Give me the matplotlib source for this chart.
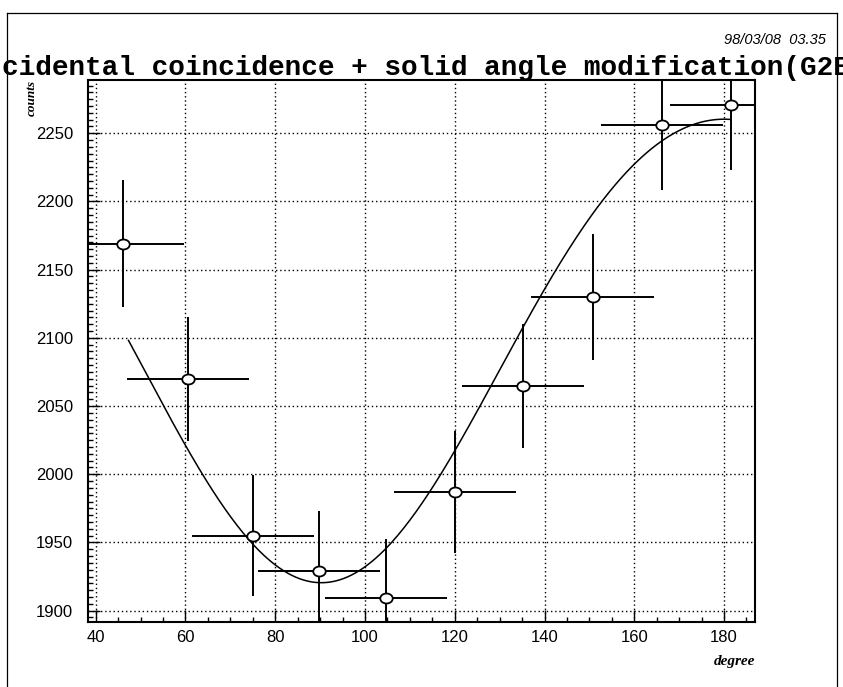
import numpy as np
import matplotlib
matplotlib.use("Agg")
import matplotlib.pyplot as plt
from matplotlib.path import Path
from matplotlib.lines import Line2D
from matplotlib.ticker import MultipleLocator

# measured counts per angular bin
angle = [46.1, 60.6, 75.0, 89.8, 104.7, 120.0, 135.3, 150.7, 166.1, 181.5]
angle_err = [13.6, 13.6, 13.6, 13.6, 13.6, 13.6, 13.6, 13.6, 13.6, 13.6]
counts = [2169, 2070, 1955, 1929, 1909, 1987, 2065, 2130, 2256, 2271]
counts_err = [46.6, 45.5, 44.2, 43.9, 43.7, 44.6, 45.4, 46.1, 47.5, 47.6]

# fit: A + D*cos + B*cos^2 + C*cos^4
fit_A, fit_B, fit_C, fit_D = 1920.5, 411.6, -67.8, 4.0
fit_lo, fit_hi = 47.3, 181.2

x_ticks = [40, 60, 80, 100, 120, 140, 160, 180]
y_ticks = [1900, 1950, 2000, 2050, 2100, 2150, 2200, 2250]

W, H = 843, 687
fig = plt.figure(figsize=(W / 100, H / 100), dpi=100)
ax = fig.add_axes([88.3 / W, 1 - 621.7 / H, (755 - 88.3) / W, (621.7 - 79.5) / H])

ax.set_xlim(38.35, 186.9)
ax.set_ylim(1891.9, 2289.4)

ax.set_xticks(x_ticks)
ax.set_yticks(y_ticks)
ax.xaxis.set_minor_locator(MultipleLocator(5))
ax.yaxis.set_minor_locator(MultipleLocator(5))
ax.tick_params(which="both", direction="in", top=False, right=False, width=1.0)
ax.tick_params(which="major", length=8.5)
ax.tick_params(which="minor", length=3.8)
ax.tick_params(axis="x", pad=6, labelsize=12)
ax.tick_params(axis="y", pad=11, labelsize=12)
for lab in ax.get_xticklabels() + ax.get_yticklabels():
    lab.set_family("Liberation Sans")
for sp in ax.spines.values():
    sp.set_linewidth(1.5)

ax.grid(True, which="major", color="black", linestyle=(0, (1, 2)), linewidth=1.0)
ax.set_axisbelow(True)

# fitted curve
th = np.linspace(fit_lo, fit_hi, 300)
c = np.cos(np.radians(th))
ax.plot(th, fit_A + fit_D * c + fit_B * c**2 + fit_C * c**4, color="black", lw=1.1, zorder=3)

ell = Path.unit_circle().transformed(matplotlib.transforms.Affine2D().scale(1.25, 1.0))
ax.errorbar(angle, counts, xerr=angle_err, yerr=counts_err, fmt="none",
            ecolor="black", elinewidth=1.4, capsize=0, zorder=4)
ax.plot(angle, counts, linestyle="none", marker=ell, markersize=9,
        markerfacecolor="white", markeredgecolor="black", markeredgewidth=1.3, zorder=5)

# labels
fig.text(2 / W, 1 - 75 / H, "cidental coincidence + solid angle modification(G2E",
         family="Liberation Mono", fontweight="bold", fontsize=20, ha="left", va="baseline")
fig.text(826 / W, 1 - 40 / H, "98/03/08  03.35", family="Liberation Sans",
         style="italic", fontsize=10.5, ha="right", va="center")
fig.text(31.5 / W, 1 - 80 / H, "counts", family="Liberation Serif", style="italic",
         fontweight="bold", fontsize=9.5, rotation=90, ha="center", va="top")
fig.text(755 / W, 1 - 661 / H, "degree", family="Liberation Serif", style="italic",
         fontweight="bold", fontsize=11, ha="right", va="center")

# page frame
frame = dict(color="black", lw=0.9, transform=fig.transFigure)
fig.add_artist(Line2D([7 / W, 7 / W], [0, 1 - 13 / H], **frame))
fig.add_artist(Line2D([837 / W, 837 / W], [0, 1 - 13 / H], **frame))
fig.add_artist(Line2D([7 / W, 837 / W], [1 - 13 / H, 1 - 13 / H], **frame))

fig.savefig("out.png", dpi=100)
